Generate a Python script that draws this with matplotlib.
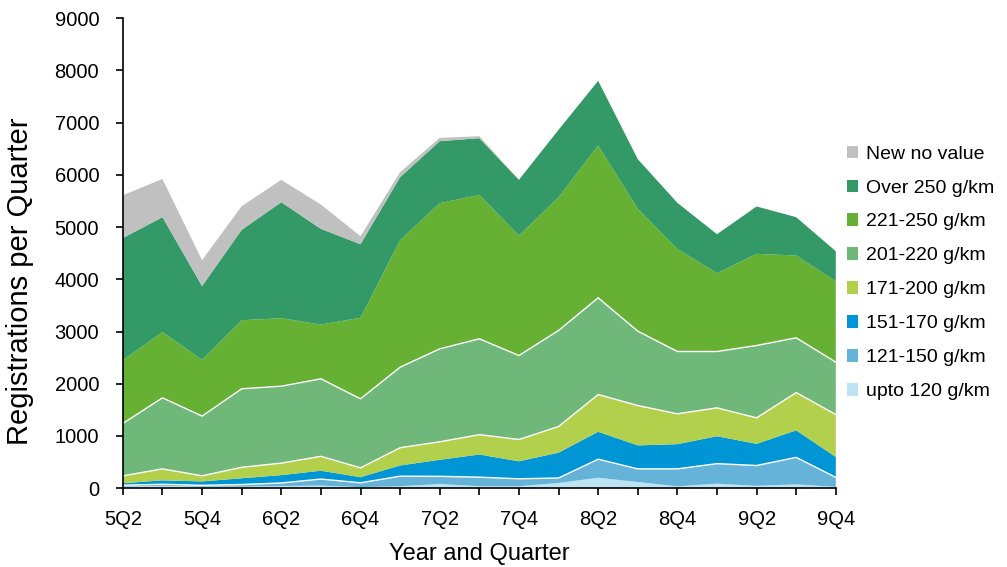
import numpy as np
import matplotlib
matplotlib.use('Agg')
import matplotlib.pyplot as plt
from matplotlib.patches import Patch

plt.rcParams['font.family'] = ['Liberation Sans', 'DejaVu Sans']

# Quarters 2005 Q2 .. 2009 Q4
quarters = ['5Q2', '5Q3', '5Q4', '6Q1', '6Q2', '6Q3', '6Q4', '7Q1', '7Q2', '7Q3',
            '7Q4', '8Q1', '8Q2', '8Q3', '8Q4', '9Q1', '9Q2', '9Q3', '9Q4']

# Registrations per band (stacked bottom to top)
upto_120 = [30, 45, 30, 30, 40, 50, 20, 38, 80, 38, 38, 100, 200, 118, 35, 87, 45, 73, 25]
b121_150 = [27, 30, 25, 40, 60, 125, 83, 192, 147, 173, 142, 95, 355, 252, 335, 383, 389, 517, 182]
b151_170 = [38, 75, 75, 120, 150, 160, 108, 205, 317, 434, 335, 485, 525, 450, 473, 525, 415, 518, 390]
b171_200 = [141, 220, 107, 210, 230, 275, 179, 340, 344, 380, 417, 501, 713, 763, 581, 543, 498, 723, 814]
b201_220 = [1004, 1360, 1143, 1503, 1473, 1484, 1321, 1542, 1780, 1835, 1608, 1839, 1852, 1424, 1193, 1079, 1385, 1048, 1002]
b221_250 = [1210, 1260, 1078, 1313, 1302, 1040, 1551, 2431, 2789, 2756, 2297, 2552, 2917, 2343, 1966, 1499, 1755, 1576, 1550]
over_250 = [2340, 2200, 1412, 1731, 2221, 1832, 1409, 1207, 1187, 1086, 1067, 1290, 1238, 950, 881, 747, 907, 734, 574]
no_value = [820, 730, 495, 453, 428, 464, 154, 95, 63, 38, 0, 0, 0, 0, 0, 0, 0, 0, 0]

series = [upto_120, b121_150, b151_170, b171_200, b201_220, b221_250, over_250, no_value]
labels = ['upto 120 g/km', '121-150 g/km', '151-170 g/km', '171-200 g/km',
          '201-220 g/km', '221-250 g/km', 'Over 250 g/km', 'New no value']
colors = ['#bde4f3', '#66b3d9', '#0096d6', '#b3d04c',
          '#70b77a', '#66b034', '#339966', '#c0c0c0']

x = np.arange(len(quarters))

fig = plt.figure(figsize=(10.07, 5.67), dpi=100)
ax = fig.add_axes([0.122, 0.139, 0.708, 0.829])

ax.stackplot(x, series, colors=colors, linewidth=0)

# thin white edges on top of some bands, like the original
cum = np.cumsum(np.array(series), axis=0)
for i in [1, 3, 4]:
    ax.plot(x, cum[i], color='white', lw=1.0)

ax.set_xlim(0, len(quarters) - 1)
ax.set_ylim(0, 9000)
ax.set_yticks(range(0, 9001, 1000))
ax.set_xticks(x)
ax.set_xticklabels([q if i % 2 == 0 else '' for i, q in enumerate(quarters)])
ax.tick_params(axis='both', direction='out', length=5, width=1.2, labelsize=14.5, colors='black')
ax.tick_params(axis='x', pad=11)
ax.tick_params(axis='y', pad=12)

for s in ['top', 'right']:
    ax.spines[s].set_visible(False)
for s in ['left', 'bottom']:
    ax.spines[s].set_linewidth(1.2)

ax.set_xlabel('Year and Quarter', fontsize=17, labelpad=10)
ax.set_ylabel('Registrations per Quarter', fontsize=21)
ax.yaxis.set_label_coords(-0.125, 0.44)

handles = [Patch(facecolor=c, edgecolor='none') for c in colors[::-1]]
fig.legend(handles, labels[::-1], loc='upper left', bbox_to_anchor=(0.833, 0.757),
           frameon=False, fontsize=14, handlelength=0.6, handleheight=0.6,
           handletextpad=0.4, labelspacing=0.87, borderaxespad=0)

fig.savefig('out.png', dpi=100)
